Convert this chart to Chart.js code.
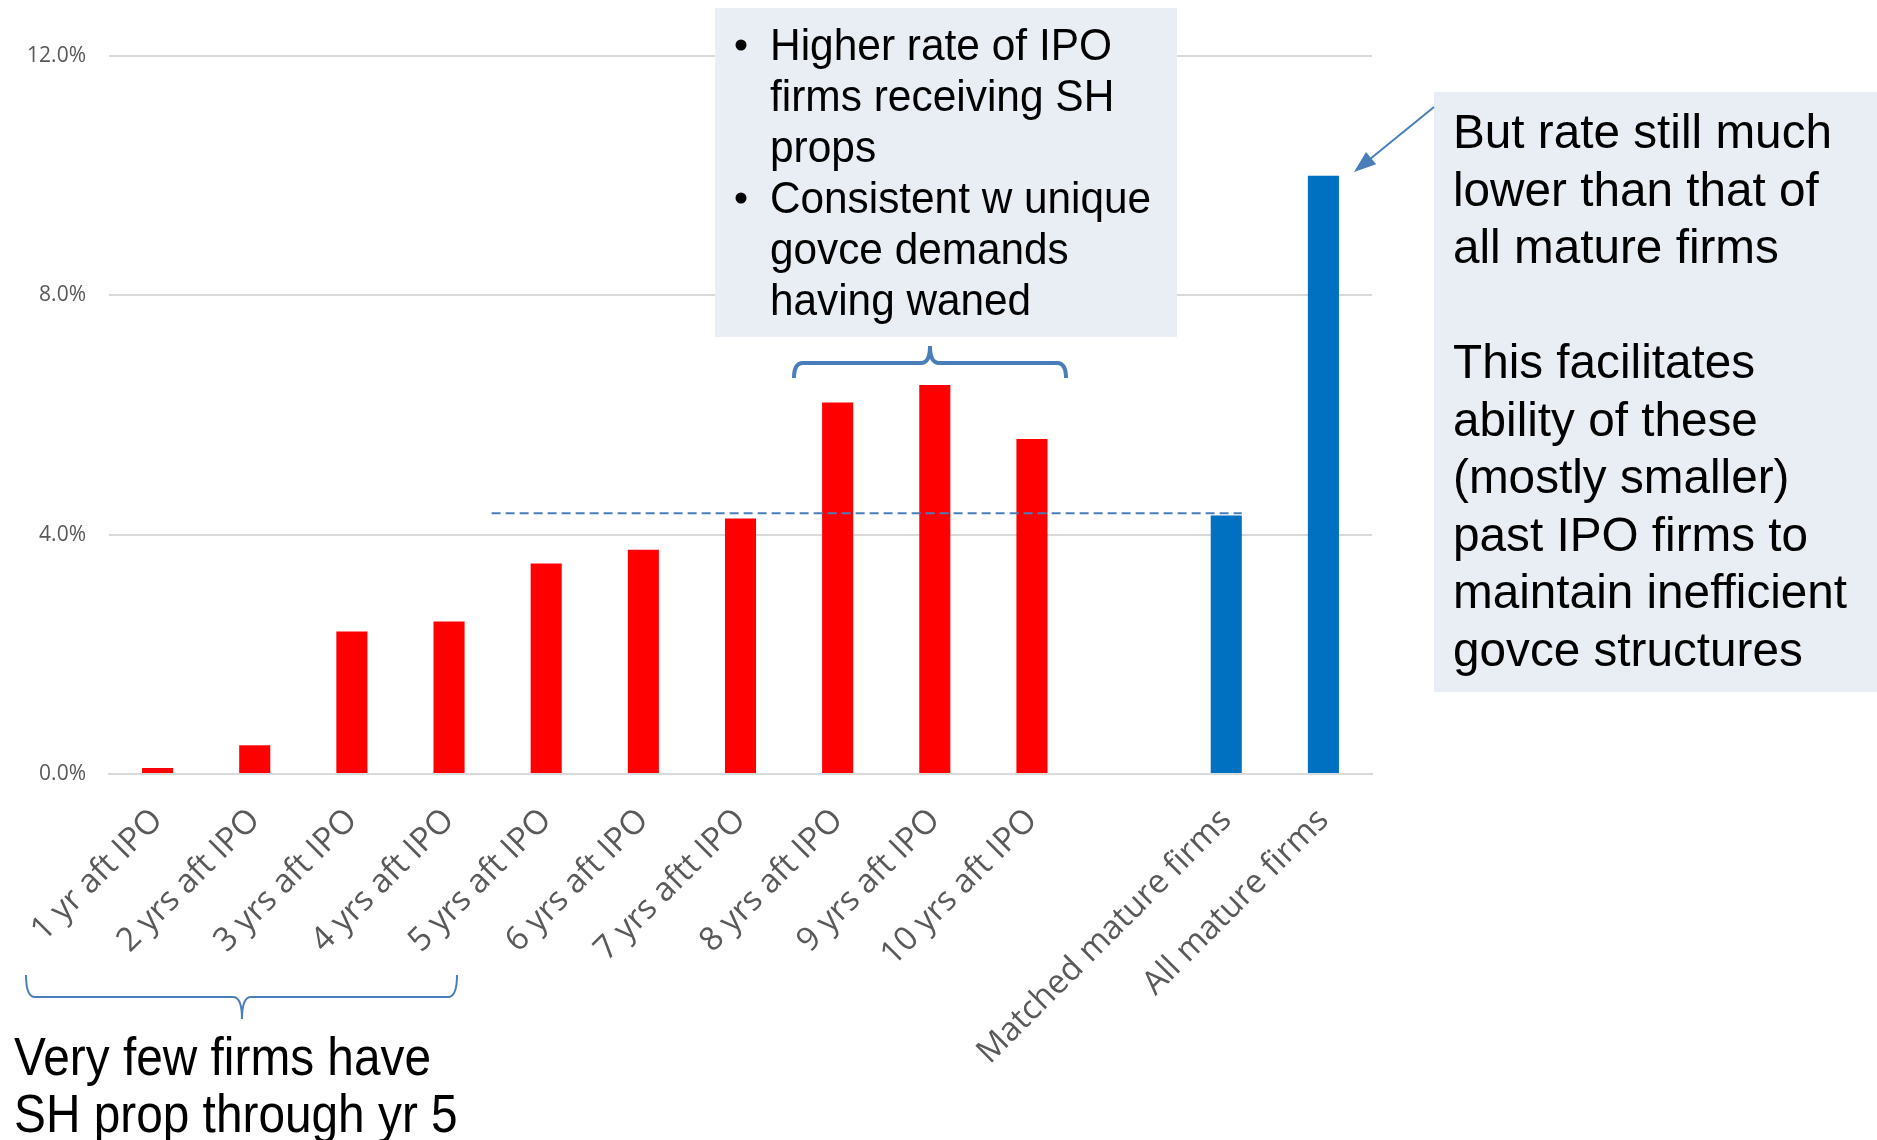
<!DOCTYPE html>
<html>
<head>
<meta charset="utf-8">
<script src="https://cdn.jsdelivr.net/npm/chart.js@4.4.1/dist/chart.umd.min.js"></script>
<style>
  html, body { margin: 0; padding: 0; background: #fff; }
  canvas { display: block; }
</style>
</head>
<body>
<canvas id="rates" width="1877" height="1140"></canvas>
<script>
// chart values
var categories = ['1 yr aft IPO', '2 yrs aft IPO', '3 yrs aft IPO', '4 yrs aft IPO', '5 yrs aft IPO',
    '6 yrs aft IPO', '7 yrs aftt IPO', '8 yrs aft IPO', '9 yrs aft IPO', '10 yrs aft IPO', '',
    'Matched mature firms', 'All mature firms'];
var ipoRates = [0.10, 0.48, 2.38, 2.55, 3.52, 3.75, 4.27, 6.21, 6.50, 5.60, null, null, null];
var matureRates = [null, null, null, null, null, null, null, null, null, null, null, 4.32, 10.00];
var yTicks = [0, 4, 8, 12];
var matchedLevel = 4.36;

var topNote = [
    ['Higher rate of IPO', 'firms receiving SH', 'props'],
    ['Consistent w unique', 'govce demands', 'having waned']
];
var rightNote = ['But rate still much', 'lower than that of', 'all mature firms', '',
    'This facilitates', 'ability of these', '(mostly smaller)', 'past IPO firms to',
    'maintain inefficient', 'govce structures'];
var bottomNote = ['Very few firms have', 'SH prop through yr 5'];

var LINE_BLUE = '#4a7ebb';

// draw lines of text squeezed / stretched so the reference line gets the wanted width
function fitLines(ctx, lines, x, y0, lineHeight, font, refIndex, refWidth) {
    ctx.font = font;
    var sx = refWidth / ctx.measureText(lines[refIndex]).width;
    lines.forEach(function (t, i) {
        if (!t) return;
        ctx.save();
        ctx.translate(x, y0 + i * lineHeight);
        ctx.scale(sx, 1);
        ctx.fillText(t, 0, 0);
        ctx.restore();
    });
}

function brace(ctx, left, right, tipX, baseY, lineY, tipY, r) {
    ctx.beginPath();
    ctx.moveTo(left, baseY);
    ctx.quadraticCurveTo(left, lineY, left + r, lineY);
    ctx.lineTo(tipX - r, lineY);
    ctx.quadraticCurveTo(tipX, lineY, tipX, tipY);
    ctx.quadraticCurveTo(tipX, lineY, tipX + r, lineY);
    ctx.lineTo(right - r, lineY);
    ctx.quadraticCurveTo(right, lineY, right, baseY);
    ctx.stroke();
}

var notesPlugin = {
    id: 'notes',
    afterDraw: function (chart) {
        var ctx = chart.ctx;
        var xs = chart.scales.x;
        var ys = chart.scales.y;
        ctx.save();

        // dashed level of matched mature firms
        var matchedBar = chart.getDatasetMeta(1).data[11];
        var yLevel = ys.getPixelForValue(matchedLevel);
        var xStart = (xs.getPixelForValue(3) + xs.getPixelForValue(4)) / 2 - 6;
        ctx.strokeStyle = LINE_BLUE;
        ctx.lineWidth = 2;
        ctx.setLineDash([9, 5]);
        ctx.beginPath();
        ctx.moveTo(xStart, yLevel);
        ctx.lineTo(matchedBar.x + matchedBar.width / 2, yLevel);
        ctx.stroke();
        ctx.setLineDash([]);

        // text boxes
        ctx.fillStyle = '#e9edf4';
        ctx.fillRect(715, 8, 462, 329);
        ctx.fillRect(1434, 92, 443, 600);

        ctx.fillStyle = '#000';
        ctx.textBaseline = 'alphabetic';
        ctx.textAlign = 'left';
        var narrow = '44px "Liberation Sans Narrow", "Liberation Sans", Arial, sans-serif';
        fitLines(ctx, topNote[0], 770, 60, 51, narrow, 0, 342);
        fitLines(ctx, topNote[1], 770, 213, 51, narrow, 0, 381);
        [60, 213].forEach(function (b) {
            ctx.beginPath();
            ctx.arc(741, b - 15, 5.5, 0, Math.PI * 2);
            ctx.fill();
        });

        fitLines(ctx, rightNote, 1453, 148, 57.5, '48px "Liberation Sans", Arial, sans-serif', 0, 379);
        fitLines(ctx, bottomNote, 14, 1075, 57, '54px "Liberation Sans Narrow", "Liberation Sans", Arial, sans-serif', 0, 417);

        // braces
        ctx.strokeStyle = LINE_BLUE;
        ctx.lineWidth = 4;
        brace(ctx, 794, 1066, 930, 378, 363, 346, 9);
        ctx.lineWidth = 2;
        brace(ctx, 26, 457, 242, 975, 997, 1019, 9);

        // arrow to the all-firms bar
        var ax0 = 1434, ay0 = 107, ax1 = 1354, ay1 = 172;
        var ang = Math.atan2(ay1 - ay0, ax1 - ax0);
        ctx.lineWidth = 2;
        ctx.beginPath();
        ctx.moveTo(ax0, ay0);
        ctx.lineTo(ax1 - 14 * Math.cos(ang), ay1 - 14 * Math.sin(ang));
        ctx.stroke();
        ctx.fillStyle = LINE_BLUE;
        ctx.beginPath();
        ctx.moveTo(ax1, ay1);
        ctx.lineTo(ax1 - 22 * Math.cos(ang) + 8 * Math.sin(ang), ay1 - 22 * Math.sin(ang) - 8 * Math.cos(ang));
        ctx.lineTo(ax1 - 22 * Math.cos(ang) - 8 * Math.sin(ang), ay1 - 22 * Math.sin(ang) + 8 * Math.cos(ang));
        ctx.closePath();
        ctx.fill();

        ctx.restore();
    }
};

var ctx = document.getElementById('rates').getContext('2d');
var chart = new Chart(ctx, {
    type: 'bar',
    data: {
        labels: categories,
        datasets: [{
            label: 'IPO firms',
            data: ipoRates,
            backgroundColor: '#ff0000',
            borderWidth: 0
        }, {
            label: 'Mature firms',
            data: matureRates,
            backgroundColor: '#0070c0',
            borderWidth: 0
        }]
    },
    options: {
        responsive: false,
        animation: false,
        devicePixelRatio: 1,
        layout: { padding: { left: 0, right: 505, top: 56, bottom: 0 } },
        datasets: { bar: { grouped: false, categoryPercentage: 1, barPercentage: 0.32 } },
        plugins: { legend: { display: false }, tooltip: { enabled: false } },
        scales: {
            x: {
                grid: { display: false },
                border: { color: '#d9d9d9', width: 2 },
                ticks: {
                    autoSkip: false,
                    minRotation: 45,
                    maxRotation: 45,
                    padding: 19,
                    color: '#595959',
                    font: { family: '"Open Sans", sans-serif', size: 33 }
                },
                afterFit: function (scale) { scale.height = 366; }
            },
            y: {
                min: 0,
                max: 12,
                afterBuildTicks: function (scale) {
                    scale.ticks = yTicks.map(function (v) { return { value: v }; });
                },
                grid: { color: '#d9d9d9', lineWidth: 2, drawTicks: false },
                border: { display: false },
                ticks: {
                    padding: 23,
                    color: '#595959',
                    font: { family: '"Open Sans", sans-serif', size: 21 },
                    callback: function (v) { return v.toFixed(1) + '%'; }
                },
                afterFit: function (scale) { scale.width = 109; }
            }
        }
    },
    plugins: [notesPlugin]
});
</script>
</body>
</html>
